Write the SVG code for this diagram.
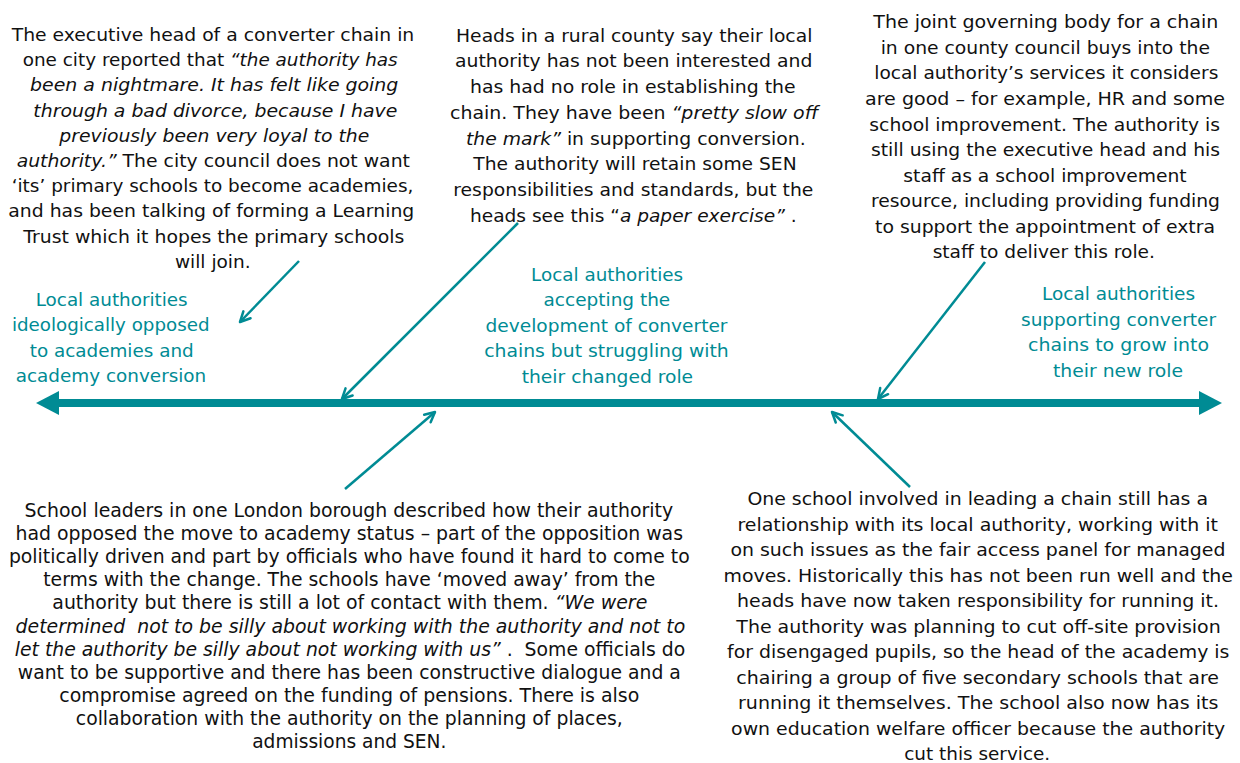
<svg xmlns="http://www.w3.org/2000/svg" width="1240" height="763" viewBox="0 0 1240 763">
  <style>
    .t { font-family: "DejaVu Sans", Verdana, sans-serif; font-size: 18.5px; fill: #111111; text-anchor: middle; }
    .bl { font-family: "DejaVu Sans", Verdana, sans-serif; font-size: 19px; fill: #111111; text-anchor: middle; }
    .lab { font-family: "DejaVu Sans", Verdana, sans-serif; font-size: 18.5px; fill: #008B94; text-anchor: middle; }
    .i { font-style: italic; }
    .conn { stroke: #008B94; stroke-width: 2.5; fill: none; }
  </style>
  <defs>
    <marker id="open" viewBox="0 0 12 12" refX="11" refY="6" markerWidth="12" markerHeight="12" markerUnits="userSpaceOnUse" orient="auto" overflow="visible">
      <path d="M1,1 L11,6 L1,11" fill="none" stroke="#008B94" stroke-width="2.5" stroke-linecap="round" stroke-linejoin="round"/>
    </marker>
  </defs>

  <rect x="0" y="0" width="1240" height="763" fill="#ffffff"/>

  <g id="axis">
    <line x1="55" y1="403" x2="1203" y2="403" stroke="#008B94" stroke-width="8"/>
    <polygon points="36,403 59,391 59,415" fill="#008B94"/>
    <polygon points="1222,403 1199,391 1199,415" fill="#008B94"/>
  </g>

  <g id="connectors">
    <line class="conn" x1="299" y1="261" x2="240" y2="322" marker-end="url(#open)"/>
    <line class="conn" x1="518" y1="223" x2="342" y2="399" marker-end="url(#open)"/>
    <line class="conn" x1="985" y1="262" x2="878" y2="399" marker-end="url(#open)"/>
    <line class="conn" x1="345" y1="489" x2="435" y2="412" marker-end="url(#open)"/>
    <line class="conn" x1="910" y1="487" x2="832" y2="412" marker-end="url(#open)"/>
  </g>

  <g id="note-city">
    <text class="t" x="213" y="41" textLength="402.6" lengthAdjust="spacingAndGlyphs">The executive head of a converter chain in</text>
    <text class="t" x="210.2" y="66.2" textLength="375" lengthAdjust="spacingAndGlyphs">one city reported that <tspan class="i">“the authority has</tspan></text>
    <text class="t i" x="214.2" y="91.4" textLength="368.3" lengthAdjust="spacingAndGlyphs">been a nightmare. It has felt like going</text>
    <text class="t i" x="215.3" y="116.6" textLength="364" lengthAdjust="spacingAndGlyphs">through a bad divorce, because I have</text>
    <text class="t i" x="214.3" y="141.8" textLength="310" lengthAdjust="spacingAndGlyphs">previously been very loyal to the</text>
    <text class="t" x="213.3" y="167" textLength="393.3" lengthAdjust="spacingAndGlyphs"><tspan class="i">authority.”</tspan> The city council does not want</text>
    <text class="t" x="212.5" y="192.2" textLength="401.7" lengthAdjust="spacingAndGlyphs">‘its’ primary schools to become academies,</text>
    <text class="t" x="211.3" y="217.4" textLength="406" lengthAdjust="spacingAndGlyphs">and has been talking of forming a Learning</text>
    <text class="t" x="213.8" y="242.6" textLength="381" lengthAdjust="spacingAndGlyphs">Trust which it hopes the primary schools</text>
    <text class="t" x="212.8" y="267.8" textLength="75.7" lengthAdjust="spacingAndGlyphs">will join.</text>
  </g>

  <g id="note-rural">
    <text class="t" x="634.2" y="41.7" textLength="356.3" lengthAdjust="spacingAndGlyphs">Heads in a rural county say their local</text>
    <text class="t" x="633.7" y="67.4" textLength="357.3" lengthAdjust="spacingAndGlyphs">authority has not been interested and</text>
    <text class="t" x="632.8" y="93.1" textLength="325.7" lengthAdjust="spacingAndGlyphs">has had no role in establishing the</text>
    <text class="t" x="634.2" y="118.8" textLength="368.3" lengthAdjust="spacingAndGlyphs">chain. They have been <tspan class="i">“pretty slow off</tspan></text>
    <text class="t" x="635.8" y="144.5" textLength="339.7" lengthAdjust="spacingAndGlyphs"><tspan class="i">the mark”</tspan> in supporting conversion.</text>
    <text class="t" x="635" y="170.2" textLength="323.3" lengthAdjust="spacingAndGlyphs">The authority will retain some SEN</text>
    <text class="t" x="633.3" y="195.9" textLength="360" lengthAdjust="spacingAndGlyphs">responsibilities and standards, but the</text>
    <text class="t" x="633.3" y="221.7" textLength="326.7" lengthAdjust="spacingAndGlyphs">heads see this “<tspan class="i">a paper exercise” </tspan>.</text>
  </g>

  <g id="note-county">
    <text class="t" x="1045.8" y="28.3" textLength="345" lengthAdjust="spacingAndGlyphs">The joint governing body for a chain</text>
    <text class="t" x="1045.3" y="53.9" textLength="329.3" lengthAdjust="spacingAndGlyphs">in one county council buys into the</text>
    <text class="t" x="1046.3" y="79.4" textLength="344" lengthAdjust="spacingAndGlyphs">local authority’s services it considers</text>
    <text class="t" x="1045" y="105" textLength="360" lengthAdjust="spacingAndGlyphs">are good – for example, HR and some</text>
    <text class="t" x="1044.7" y="130.5" textLength="350.7" lengthAdjust="spacingAndGlyphs">school improvement. The authority is</text>
    <text class="t" x="1045.5" y="156.1" textLength="349" lengthAdjust="spacingAndGlyphs">still using the executive head and his</text>
    <text class="t" x="1045" y="181.6" textLength="283.3" lengthAdjust="spacingAndGlyphs">staff as a school improvement</text>
    <text class="t" x="1045.5" y="207.2" textLength="349" lengthAdjust="spacingAndGlyphs">resource, including providing funding</text>
    <text class="t" x="1045" y="232.7" textLength="340" lengthAdjust="spacingAndGlyphs">to support the appointment of extra</text>
    <text class="t" x="1043.8" y="258.3" textLength="222.3" lengthAdjust="spacingAndGlyphs">staff to deliver this role.</text>
  </g>

  <g id="label-opposed">
    <text class="lab" x="111.7" y="306" textLength="152" lengthAdjust="spacingAndGlyphs">Local authorities</text>
    <text class="lab" x="110.7" y="331.3" textLength="197.6" lengthAdjust="spacingAndGlyphs">ideologically opposed</text>
    <text class="lab" x="111.7" y="356.6" textLength="164" lengthAdjust="spacingAndGlyphs">to academies and</text>
    <text class="lab" x="111" y="381.9" textLength="190.5" lengthAdjust="spacingAndGlyphs">academy conversion</text>
  </g>

  <g id="label-accepting">
    <text class="lab" x="607.1" y="280.6" textLength="152" lengthAdjust="spacingAndGlyphs">Local authorities</text>
    <text class="lab" x="606.9" y="306" textLength="126.7" lengthAdjust="spacingAndGlyphs">accepting the</text>
    <text class="lab" x="606.5" y="331.5" textLength="242" lengthAdjust="spacingAndGlyphs">development of converter</text>
    <text class="lab" x="606.5" y="357" textLength="244.5" lengthAdjust="spacingAndGlyphs">chains but struggling with</text>
    <text class="lab" x="607.4" y="382.5" textLength="171.4" lengthAdjust="spacingAndGlyphs">their changed role</text>
  </g>

  <g id="label-supporting">
    <text class="lab" x="1118.6" y="300" textLength="153" lengthAdjust="spacingAndGlyphs">Local authorities</text>
    <text class="lab" x="1118.5" y="325.7" textLength="195" lengthAdjust="spacingAndGlyphs">supporting converter</text>
    <text class="lab" x="1118.5" y="351.4" textLength="181" lengthAdjust="spacingAndGlyphs">chains to grow into</text>
    <text class="lab" x="1118" y="377" textLength="130" lengthAdjust="spacingAndGlyphs">their new role</text>
  </g>

  <g id="note-london">
    <text class="bl" x="348.9" y="516.7" textLength="648.6" lengthAdjust="spacingAndGlyphs">School leaders in one London borough described how their authority</text>
    <text class="bl" x="349.3" y="539.9" textLength="667.4" lengthAdjust="spacingAndGlyphs">had opposed the move to academy status – part of the opposition was</text>
    <text class="bl" x="349.3" y="563" textLength="680.8" lengthAdjust="spacingAndGlyphs">politically driven and part by officials who have found it hard to come to</text>
    <text class="bl" x="349.3" y="586.2" textLength="612.1" lengthAdjust="spacingAndGlyphs">terms with the change. The schools have ‘moved away’ from the</text>
    <text class="bl" x="349.8" y="609.3" textLength="595" lengthAdjust="spacingAndGlyphs">authority but there is still a lot of contact with them. <tspan class="i">“We were</tspan></text>
    <text class="bl i" x="350.4" y="632.5" textLength="669.6" lengthAdjust="spacingAndGlyphs" xml:space="preserve">determined  not to be silly about working with the authority and not to</text>
    <text class="bl" x="350" y="655.7" textLength="670.5" lengthAdjust="spacingAndGlyphs" xml:space="preserve"><tspan class="i">let the authority be silly about not working with us” </tspan>.  Some officials do</text>
    <text class="bl" x="349.3" y="678.8" textLength="663" lengthAdjust="spacingAndGlyphs">want to be supportive and there has been constructive dialogue and a</text>
    <text class="bl" x="349.3" y="702" textLength="580" lengthAdjust="spacingAndGlyphs">compromise agreed on the funding of pensions. There is also</text>
    <text class="bl" x="349.3" y="725.1" textLength="547" lengthAdjust="spacingAndGlyphs">collaboration with the authority on the planning of places,</text>
    <text class="bl" x="349.3" y="748.3" textLength="194.2" lengthAdjust="spacingAndGlyphs">admissions and SEN.</text>
  </g>

  <g id="note-school">
    <text class="t" x="977.7" y="505" textLength="460.6" lengthAdjust="spacingAndGlyphs">One school involved in leading a chain still has a</text>
    <text class="t" x="977.7" y="530.5" textLength="480.6" lengthAdjust="spacingAndGlyphs">relationship with its local authority, working with it</text>
    <text class="t" x="977.9" y="556" textLength="495" lengthAdjust="spacingAndGlyphs">on such issues as the fair access panel for managed</text>
    <text class="t" x="978.2" y="581.5" textLength="509.4" lengthAdjust="spacingAndGlyphs">moves. Historically this has not been run well and the</text>
    <text class="t" x="978" y="607" textLength="482" lengthAdjust="spacingAndGlyphs">heads have now taken responsibility for running it.</text>
    <text class="t" x="978.5" y="632.5" textLength="484.4" lengthAdjust="spacingAndGlyphs">The authority was planning to cut off-site provision</text>
    <text class="t" x="978.2" y="658" textLength="502.4" lengthAdjust="spacingAndGlyphs">for disengaged pupils, so the head of the academy is</text>
    <text class="t" x="977.7" y="683.5" textLength="482.7" lengthAdjust="spacingAndGlyphs">chairing a group of five secondary schools that are</text>
    <text class="t" x="978.2" y="709" textLength="480.3" lengthAdjust="spacingAndGlyphs">running it themselves. The school also now has its</text>
    <text class="t" x="978.2" y="734.5" textLength="494.2" lengthAdjust="spacingAndGlyphs">own education welfare officer because the authority</text>
    <text class="t" x="977.2" y="760" textLength="146" lengthAdjust="spacingAndGlyphs">cut this service.</text>
  </g>
</svg>
